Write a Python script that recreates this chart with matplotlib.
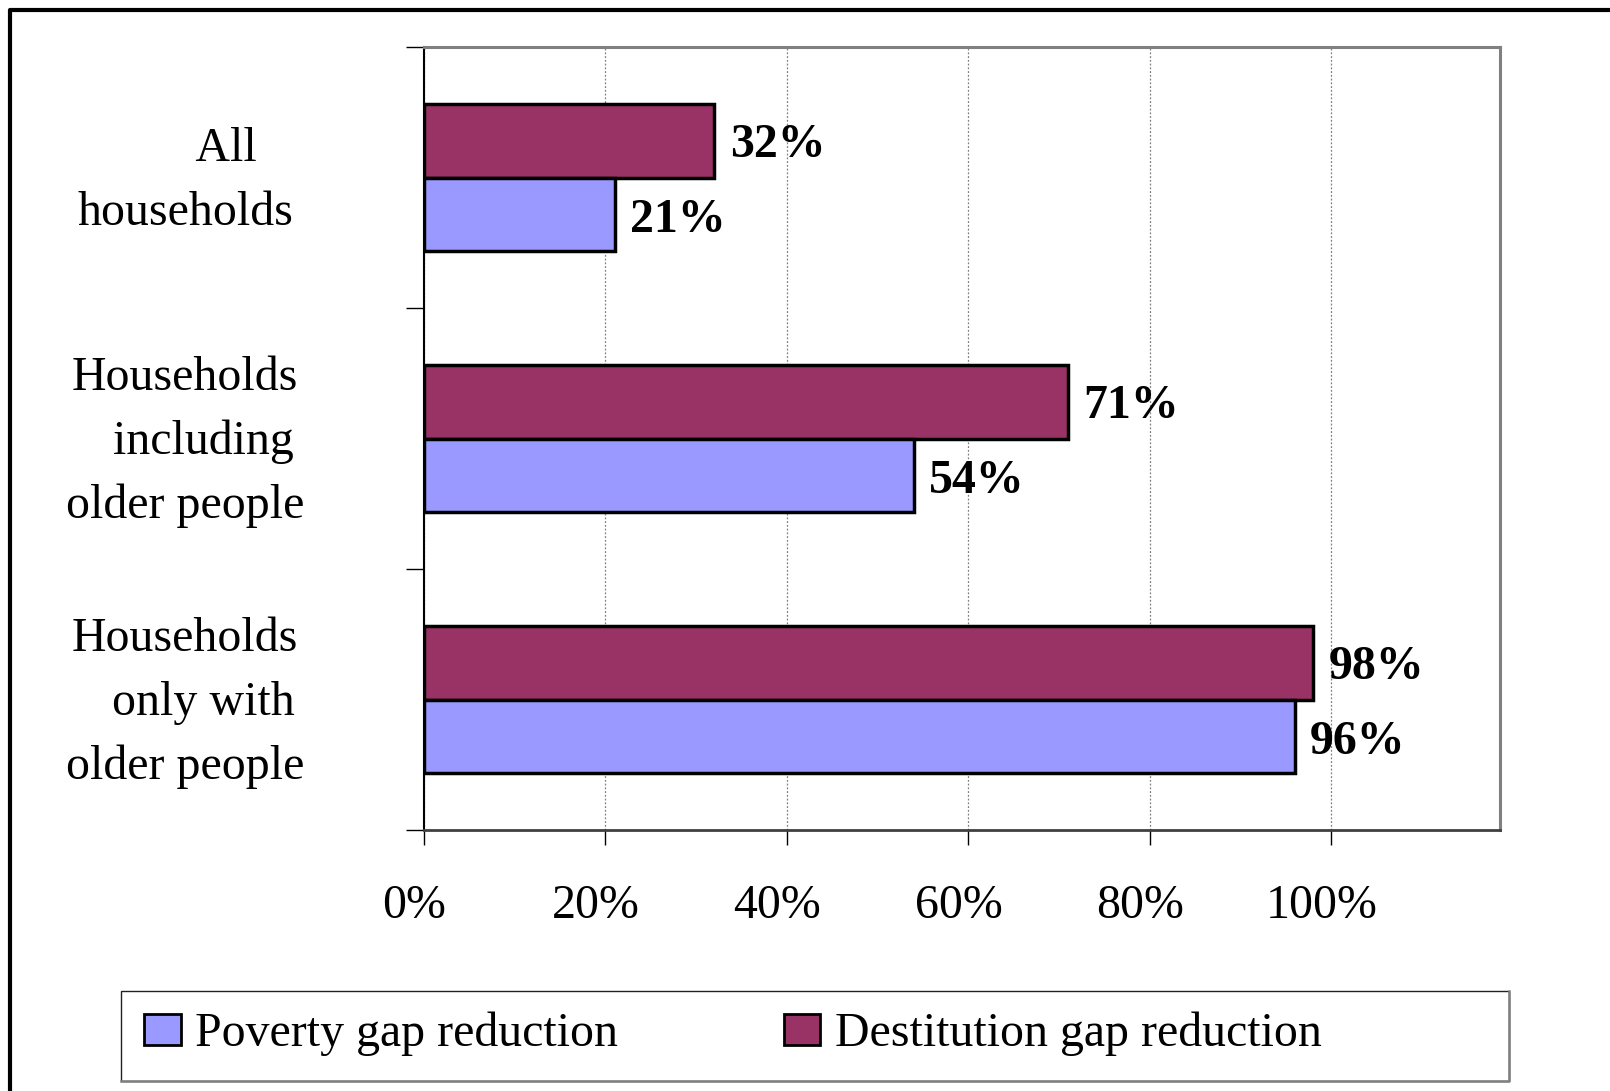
import matplotlib
matplotlib.use("Agg")
import matplotlib.pyplot as plt
from matplotlib.patches import Patch, Rectangle
from matplotlib.lines import Line2D
import matplotlib.transforms as mtransforms

categories = ["       All\nhouseholds", "Households\n   including\nolder people", "Households\n   only with\nolder people"]
poverty = [21, 54, 96]
destitution = [32, 71, 98]
xtick_vals = [0, 20, 40, 60, 80, 100]
xtick_labels = ["0%", "20%", "40%", "60%", "80%", "100%"]
series_names = ["Poverty gap reduction", "Destitution gap reduction"]

plt.rcParams['font.family'] = ['Liberation Serif', 'DejaVu Serif']
FS = 34.5

W, H = 1610, 1091
fig = plt.figure(figsize=(W / 100, H / 100), dpi=100)
fig.patch.set_facecolor("white")

ax = fig.add_axes([424 / W, 1 - 830 / H, (1500 - 424) / W, (830 - 47) / H])

pov_col = "#9999FF"
des_col = "#993366"
bh = 0.28
ys = list(range(len(categories)))

ax.barh([y - bh / 2 for y in ys], [d / 100 for d in destitution], height=bh,
        color=des_col, edgecolor="black", linewidth=2.5, zorder=3)
ax.barh([y + bh / 2 for y in ys], [p / 100 for p in poverty], height=bh,
        color=pov_col, edgecolor="black", linewidth=2.5, zorder=3)

for y, d, p in zip(ys, destitution, poverty):
    ax.annotate(f"{d}%", (d / 100, y - bh / 2), xytext=(11, -3), textcoords="offset points",
                va="center", ha="left", fontsize=FS, fontweight="bold")
    ax.annotate(f"{p}%", (p / 100, y + bh / 2), xytext=(11, -4), textcoords="offset points",
                va="center", ha="left", fontsize=FS, fontweight="bold")

ax.set_xlim(0, 1.186)
ax.set_ylim(2.5, -0.5)

ax.set_xticks([v / 100 for v in xtick_vals])
ax.set_xticklabels(xtick_labels, fontsize=FS)
ax.tick_params(axis="x", direction="out", length=11, width=1, color="black", pad=28)
offset = mtransforms.ScaledTranslation(-7 / 72, 0, fig.dpi_scale_trans)
for lab in ax.get_xticklabels():
    lab.set_transform(lab.get_transform() + offset)

ax.set_yticks([-0.5, 0.5, 1.5, 2.5])
ax.set_yticklabels([])
ax.tick_params(axis="y", which="major", direction="out", length=13, width=1, color="black")
ax.set_yticks(ys, minor=True)
ax.set_yticklabels(categories, minor=True, fontsize=FS, ha="center", linespacing=1.57)
ax.tick_params(axis="y", which="minor", length=0, pad=172)
yoff = mtransforms.ScaledTranslation(0, 8 / 72, fig.dpi_scale_trans)
for lab in ax.get_yticklabels(minor=True):
    lab.set_transform(lab.get_transform() + yoff)

ax.grid(axis="x", color="#808080", linestyle=(0, (1.5, 1.5)), linewidth=0.9, zorder=0)
ax.set_axisbelow(True)

ax.spines["top"].set_color("#808080")
ax.spines["top"].set_linewidth(2.2)
ax.spines["right"].set_color("#808080")
ax.spines["right"].set_linewidth(2.2)
ax.spines["left"].set_color("black")
ax.spines["left"].set_linewidth(1.5)
ax.spines["bottom"].set_color("#404040")
ax.spines["bottom"].set_linewidth(2)

# legend frame
lx0, lx1, ly0, ly1 = 121, 1509, 991, 1081
fig.add_artist(Rectangle((lx0 / W, 1 - ly1 / H), (lx1 - lx0) / W, (ly1 - ly0) / H,
                         transform=fig.transFigure, facecolor="white",
                         edgecolor="#202020", linewidth=1.0))
fig.add_artist(Line2D([lx1 / W, lx1 / W, lx0 / W], [1 - ly0 / H, 1 - ly1 / H, 1 - ly1 / H],
                      transform=fig.transFigure, color="#808080", linewidth=1.8))

handles = [Patch(facecolor=pov_col, edgecolor="black", linewidth=2),
           Patch(facecolor=des_col, edgecolor="black", linewidth=2)]
fig.legend(handles, series_names, loc="center left",
           bbox_to_anchor=(144 / W, 1 - 1034 / H), bbox_transform=fig.transFigure,
           ncol=2, frameon=False, fontsize=FS, borderpad=0, borderaxespad=0,
           handlelength=0.77, handleheight=0.62, handletextpad=0.3, columnspacing=3.45)

# outer frame (top and left edges visible)
fig.add_artist(Line2D([10 / W, 10 / W, 1.0], [0.0, 1 - 10 / H, 1 - 10 / H],
                      transform=fig.transFigure, color="black", linewidth=3))

fig.savefig("out.png", dpi=100)
